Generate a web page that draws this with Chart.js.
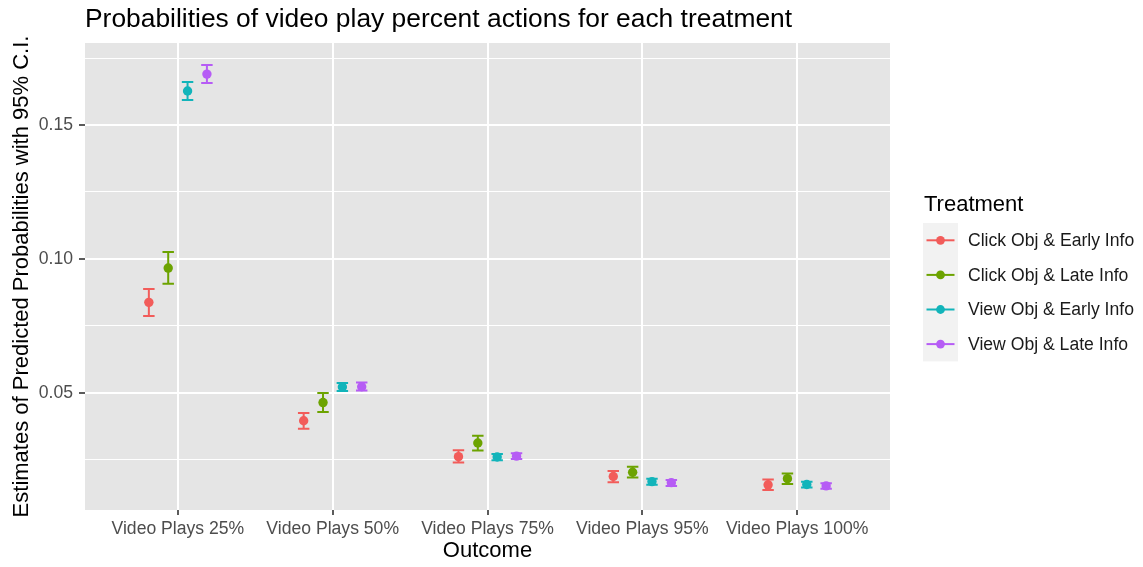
<!DOCTYPE html>
<html lang="en">
  <head>
    <meta charset="UTF-8" />
    <title>Video play percent probabilities</title>
    <script src="https://cdn.jsdelivr.net/npm/chart.js@4"></script>
    <style>
      body { margin: 0; background: #fff; }
    </style>
  </head>
  <body>
    <canvas id="probChart" width="1143" height="567"></canvas>

    <script>
      // Outcomes along the x axis
      const outcomes = ["Video Plays 25%", "Video Plays 50%", "Video Plays 75%", "Video Plays 95%", "Video Plays 100%"];
      const treatments = ["Click Obj & Early Info", "Click Obj & Late Info", "View Obj & Early Info", "View Obj & Late Info"];

      // Point estimates, one array per treatment (same order as outcomes)
      const clickEarly = [0.0838, 0.0396, 0.0262, 0.0188, 0.0157];
      const clickLate  = [0.0966, 0.0464, 0.0313, 0.0204, 0.0180];
      const viewEarly  = [0.1627, 0.0522, 0.0261, 0.0169, 0.0158];
      const viewLate   = [0.1690, 0.0523, 0.0264, 0.0165, 0.0153];

      // 95% C.I. bounds
      const clickEarlyLo = [0.0787, 0.0366, 0.0240, 0.0167, 0.0138];
      const clickEarlyHi = [0.0888, 0.0425, 0.0286, 0.0209, 0.0177];
      const clickLateLo  = [0.0907, 0.0429, 0.0285, 0.0184, 0.0160];
      const clickLateHi  = [0.1026, 0.0500, 0.0340, 0.0224, 0.0199];
      const viewEarlyLo  = [0.1593, 0.0507, 0.0249, 0.0157, 0.0147];
      const viewEarlyHi  = [0.1660, 0.0537, 0.0272, 0.0180, 0.0168];
      const viewLateLo   = [0.1657, 0.0509, 0.0253, 0.0153, 0.0142];
      const viewLateHi   = [0.1724, 0.0539, 0.0275, 0.0175, 0.0163];

      const yTickValues = [0.025, 0.05, 0.075, 0.1, 0.125, 0.15, 0.175];

      const colors = ["#F25C5A", "#6CA300", "#12B4BA", "#B65CF5"];
      const dodge = [-0.1875, -0.0625, 0.0625, 0.1875];
      const capHalf = 0.037;
      const FONT = "'Liberation Sans', Arial, Helvetica, sans-serif";

      const estimates = [clickEarly, clickLate, viewEarly, viewLate];
      const lows = [clickEarlyLo, clickLateLo, viewEarlyLo, viewLateLo];
      const highs = [clickEarlyHi, clickLateHi, viewEarlyHi, viewLateHi];

      const isMajor = (v) => Math.abs(Math.round(v / 0.05) * 0.05 - v) < 1e-9;

      const datasets = treatments.map((name, t) => ({
        label: name,
        data: estimates[t].map((y, i) => ({ x: i + 1 + dodge[t], y: y, lo: lows[t][i], hi: highs[t][i] })),
        backgroundColor: colors[t],
        borderColor: colors[t],
        pointRadius: 4.7,
        pointHoverRadius: 4.7,
        pointBorderWidth: 0,
        showLine: false,
      }));

      // gray panel behind the plot area
      const panelBg = {
        id: "panelBg",
        beforeDraw(chart) {
          const { ctx, chartArea: a } = chart;
          ctx.save();
          ctx.fillStyle = "#E5E5E5";
          ctx.fillRect(a.left, a.top, a.right - a.left, a.bottom - a.top);
          ctx.restore();
        },
      };

      // error bars with caps, drawn under the points
      const errorBars = {
        id: "errorBars",
        beforeDatasetsDraw(chart) {
          const { ctx, scales: { x, y } } = chart;
          ctx.save();
          ctx.lineWidth = 2;
          chart.data.datasets.forEach((ds) => {
            ctx.strokeStyle = ds.borderColor;
            ds.data.forEach((p) => {
              const px = x.getPixelForValue(p.x);
              const x0 = x.getPixelForValue(p.x - capHalf);
              const x1 = x.getPixelForValue(p.x + capHalf);
              const yl = y.getPixelForValue(p.lo);
              const yh = y.getPixelForValue(p.hi);
              ctx.beginPath();
              ctx.moveTo(px, yl); ctx.lineTo(px, yh);
              ctx.moveTo(x0, yl); ctx.lineTo(x1, yl);
              ctx.moveTo(x0, yh); ctx.lineTo(x1, yh);
              ctx.stroke();
            });
          });
          ctx.restore();
        },
      };

      // title and legend in ggplot style
      const decorations = {
        id: "decorations",
        afterDraw(chart) {
          const { ctx, chartArea: a } = chart;
          ctx.save();
          ctx.fillStyle = "#000";
          ctx.textAlign = "left";
          ctx.textBaseline = "alphabetic";
          ctx.font = "26.4px " + FONT;
          ctx.fillText("Probabilities of video play percent actions for each treatment", a.left, 27);

          ctx.font = "22px " + FONT;
          ctx.fillText("Treatment", 924, 211);

          const keyX = 923, keyY = 223, keyW = 35, rowH = 34.6;
          ctx.fillStyle = "#F2F2F2";
          ctx.fillRect(keyX, keyY, keyW, rowH * chart.data.datasets.length);

          ctx.font = "17.6px " + FONT;
          ctx.textBaseline = "middle";
          chart.data.datasets.forEach((ds, i) => {
            const cy = keyY + rowH * (i + 0.5);
            ctx.strokeStyle = ds.borderColor;
            ctx.lineWidth = 2;
            ctx.beginPath();
            ctx.moveTo(keyX + 3.5, cy);
            ctx.lineTo(keyX + keyW - 3.5, cy);
            ctx.stroke();
            ctx.fillStyle = ds.backgroundColor;
            ctx.beginPath();
            ctx.arc(keyX + keyW / 2, cy, 4.4, 0, Math.PI * 2);
            ctx.fill();
            ctx.fillStyle = "#1A1A1A";
            ctx.fillText(ds.label, 968, cy + 1);
          });
          ctx.restore();
        },
      };

      const ctx = document.getElementById("probChart").getContext("2d");
      const chart = new Chart(ctx, {
        type: "scatter",
        data: { datasets: datasets },
        plugins: [panelBg, errorBars, decorations],
        options: {
          responsive: false,
          animation: false,
          devicePixelRatio: 1,
          layout: { padding: { top: 43, right: 253, left: 0, bottom: 0 } },
          plugins: {
            legend: { display: false },
            tooltip: { enabled: false },
          },
          scales: {
            x: {
              type: "linear",
              min: 0.4,
              max: 5.6,
              afterBuildTicks(scale) {
                scale.ticks = outcomes.map((_, i) => ({ value: i + 1 }));
              },
              afterFit(scale) {
                scale.height = 57;
              },
              border: { display: false },
              grid: {
                color: "#FFFFFF",
                lineWidth: 2,
                drawTicks: true,
                tickLength: 5,
                tickColor: "#333333",
                tickWidth: 1.6,
              },
              ticks: {
                padding: 4,
                color: "#4D4D4D",
                font: { family: FONT, size: 17.6 },
                maxRotation: 0,
                autoSkip: false,
                callback: (v) => outcomes[Math.round(v) - 1],
              },
              title: {
                display: true,
                text: "Outcome",
                color: "#000",
                font: { family: FONT, size: 22 },
                padding: { top: 0, bottom: 3 },
              },
            },
            y: {
              min: 0.0063,
              max: 0.1806,
              afterBuildTicks(scale) {
                scale.ticks = yTickValues.map((v) => ({ value: v }));
              },
              afterFit(scale) {
                scale.width = 85;
              },
              border: { display: false },
              grid: {
                color: "#FFFFFF",
                lineWidth: (c) => (c.tick && isMajor(c.tick.value) ? 2 : 1),
                drawTicks: true,
                tickLength: 6,
                tickColor: (c) => (c.tick && isMajor(c.tick.value) ? "#333333" : "rgba(0,0,0,0)"),
                tickWidth: 1.6,
              },
              ticks: {
                padding: 6,
                color: "#4D4D4D",
                font: { family: FONT, size: 17.6 },
                autoSkip: false,
                callback: (v) => (isMajor(v) ? v.toFixed(2) : ""),
              },
              title: {
                display: true,
                text: "Estimates of Predicted Probabilities with 95% C.I.",
                color: "#000",
                font: { family: FONT, size: 22 },
                padding: { top: 9, bottom: 0 },
              },
            },
          },
        },
      });
    </script>
  </body>
</html>
